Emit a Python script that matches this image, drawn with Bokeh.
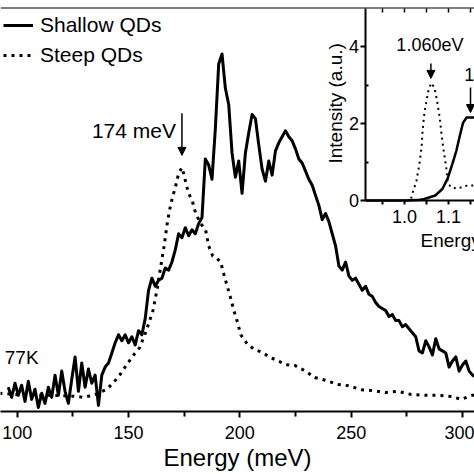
import numpy as np
from bokeh.plotting import figure
from bokeh.models import (Range1d, LinearAxis, FixedTicker, Label, Arrow,
                          NormalHead, Span, PrintfTickFormatter)
from bokeh.embed import file_html
from bokeh.resources import INLINE

FONT = "Liberation Sans"

# ---------------- main spectrum data (meV, arb. units) ----------------
shallow_energy = np.arange(96.0, 306.5, 1.5)  # sampling grid
shallow_intensity = [
    6, 3.5, 7, 4, 6.5, 2.5, 7.5, 3, 5.5, 1,
    4.5, 2, 6, 3.5, 9, 4, 10, 5, 2, 8,
    13.5, 5, 12, 6, 10.5, 7, 9, 1.5, 9, 11,
    12, 14.5, 17, 19, 17.5, 19, 17, 18.5, 16.5, 20,
    19, 23, 30, 33, 31, 32.5, 33, 35.5, 35, 37,
    40, 44, 43, 45.5, 43.5, 45, 44, 46.5, 48, 62.5,
    61, 57.5, 70, 86, 88.5, 80, 76, 64, 58, 62,
    54, 64, 69, 73.5, 72.5, 66, 60, 57, 62, 58.5,
    64.5, 66.5, 68, 69.5, 68, 67, 65, 62.5, 61.5, 59.5,
    57.5, 56, 53.5, 51, 47.5, 49, 47, 44, 41, 36,
    35, 37, 33.5, 32.5, 33, 31.5, 30, 31, 29, 28.5,
    27, 26, 25.5, 25, 23.5, 24, 22.5, 22.5, 21, 21.5,
    20.5, 19.5, 18.5, 15, 14.5, 17.5, 16, 14, 18, 15.5,
    15, 14.5, 11, 12.5, 13.5, 10, 11.5, 12.5, 10, 9,
    8.5,
]

steep_energy = [92, 105, 115, 125, 130, 135, 140, 143, 146, 149, 152, 155,
                158, 161, 163, 164.5, 166, 167.5, 168.5, 169.6, 171, 172.5,
                174, 175, 176, 177, 178.7, 180.2, 182.4, 184.6, 186, 187.8,
                189.5, 191.4, 192.8, 194.5, 195.9, 197.3, 199, 200.4, 203.5,
                206.7, 210.3, 213.5, 217, 220.7, 224.7, 229.2, 233.7, 238.7,
                244, 248.6, 254.5, 259, 265.3, 271, 277, 283.3, 289, 295,
                299.5, 304, 306]
steep_intensity = [4.5, 4, 4, 3.8, 3.5, 4.2, 5.4, 7, 9, 11.4, 13.8, 15.8,
                   20, 25, 30.7, 36, 41, 47, 50, 52.7, 55.4, 58.9,
                   60.4, 58.4, 56, 54, 52, 49, 46.5, 45, 41, 38.5,
                   38, 37, 34, 30.7, 28, 25, 22, 19, 16.6,
                   15.3, 14.6, 13.4, 12.6, 11.6, 11.4, 10.1, 8.4, 7.7,
                   6.7, 6.4, 5.4, 5.2, 4.7, 5, 4.2, 4, 4, 3.7,
                   3, 4, 4]

main_ticks = [100, 150, 200, 250, 300]
main_minor = [125, 175, 225, 275]
main_peak_mev = 174

# ---------------- inset data (eV, a.u.) ----------------
inset_steep_e = [1.015, 1.018, 1.027, 1.034, 1.039, 1.041, 1.045, 1.05, 1.055,
                 1.061, 1.068, 1.074, 1.08, 1.084, 1.089, 1.095, 1.098, 1.106,
                 1.12, 1.143, 1.16]
inset_steep_i = [0.05, 0.18, 0.5, 0.96, 1.4, 1.8, 2.26, 2.6, 2.9,
                 3.06, 2.94, 2.6, 2.16, 1.74, 1.3, 0.86, 0.47, 0.34,
                 0.31, 0.39, 0.39]
inset_shallow_e = [0.912, 1.0, 1.03, 1.045, 1.07, 1.086, 1.098, 1.109, 1.118,
                   1.126, 1.133, 1.141, 1.16]
inset_shallow_i = [0, 0, 0.01, 0.04, 0.13, 0.3, 0.57, 0.96, 1.3,
                   1.7, 2.02, 2.16, 2.16]
inset_xticks = [1.0, 1.1]
inset_xminor = [0.95, 1.05, 1.15]
inset_yticks = [0, 2, 4]
inset_yminor = [1, 3]
inset_peak_steep = 1.060
inset_peak_shallow = 1.150

INSET_X0 = 0.9125
INSET_X1 = 1.1591
INSET_YMAX = 5.0

p = figure(width=474, height=474,
           x_range=Range1d(92.5, 305.4), y_range=Range1d(0, 100),
           output_backend="svg", toolbar_location=None, y_axis_location=None,
           min_border_left=0, min_border_right=0, min_border_top=7,
           min_border_bottom=63)
p.outline_line_color = None
p.grid.visible = False
p.extra_x_ranges = {"ix": Range1d(0.0818, INSET_X1)}
p.extra_y_ranges = {"iy": Range1d(-5.495, 5.026)}

# main x axis
xa = p.xaxis[0]
xa.ticker = FixedTicker(ticks=main_ticks, minor_ticks=main_minor)
xa.axis_label = "Energy (meV)"
xa.axis_label_text_font = FONT
xa.axis_label_text_font_size = "24px"
xa.axis_label_text_font_style = "normal"
xa.axis_label_text_color = "black"
xa.axis_label_standoff = 2
xa.major_label_text_font = FONT
xa.major_label_text_font_size = "18px"
xa.major_label_text_color = "black"
xa.major_label_standoff = 8
xa.axis_line_width = 2
xa.major_tick_line_width = 2
xa.minor_tick_line_width = 2
xa.major_tick_out = 6
xa.major_tick_in = 0
xa.minor_tick_out = 5
xa.minor_tick_in = 0

# top frame line
p.add_layout(Span(location=100, dimension="width", line_color="black",
                  line_width=2))

# main curves
p.line(shallow_energy, shallow_intensity, line_color="black", line_width=3,
       line_join="round", legend_label="Shallow QDs")
p.line(steep_energy, steep_intensity, line_color="black", line_width=3,
       line_dash="3 5", legend_label="Steep QDs")

lg = p.legend[0]
lg.location = "top_left"
lg.margin = 3
lg.padding = 0
lg.spacing = 0
lg.border_line_color = None
lg.background_fill_alpha = 0
lg.glyph_width = 30
lg.glyph_height = 30
lg.label_height = 30
lg.label_standoff = 7
lg.label_text_font = FONT
lg.label_text_font_size = "21px"
lg.label_text_color = "black"

# main annotations
p.add_layout(Arrow(end=NormalHead(size=8, fill_color="black", line_color="black"),
                   x_start=main_peak_mev, y_start=73.8,
                   x_end=main_peak_mev, y_end=63.4, line_width=1.5))
p.add_layout(Label(x=main_peak_mev, y=69.6, x_offset=-6, text=f"{main_peak_mev} meV",
                   text_align="right", text_baseline="middle", text_color="black",
                   text_font=FONT, text_font_size="21px"))
p.add_layout(Label(x=109.6, y=13.4, text="77K", text_align="right",
                   text_baseline="middle", text_color="black",
                   text_font=FONT, text_font_size="19px"))

# ---------------- inset ----------------
p.line(inset_steep_e, inset_steep_i, x_range_name="ix", y_range_name="iy",
       line_color="black", line_width=2, line_dash="2 4")
p.line(inset_shallow_e, inset_shallow_i, x_range_name="ix", y_range_name="iy",
       line_color="black", line_width=2.5)

iy_ax = LinearAxis(x_range_name="ix", y_range_name="iy", fixed_location=INSET_X0,
                   bounds=(0, INSET_YMAX),
                   ticker=FixedTicker(ticks=inset_yticks, minor_ticks=inset_yminor))
iy_ax.major_label_text_font = FONT
iy_ax.major_label_text_font_size = "18px"
iy_ax.major_label_text_color = "black"
iy_ax.major_label_standoff = 2
iy_ax.axis_line_width = 2
iy_ax.major_tick_line_width = 2
iy_ax.minor_tick_line_width = 2
iy_ax.major_tick_out = 5
iy_ax.major_tick_in = 0
iy_ax.minor_tick_out = 0
iy_ax.minor_tick_in = 3
p.add_layout(iy_ax, "left")

ix_ax = LinearAxis(x_range_name="ix", y_range_name="iy", fixed_location=0,
                   bounds=(INSET_X0, INSET_X1),
                   ticker=FixedTicker(ticks=inset_xticks, minor_ticks=inset_xminor),
                   formatter=PrintfTickFormatter(format="%.1f"))
ix_ax.major_label_text_font = FONT
ix_ax.major_label_text_font_size = "18px"
ix_ax.major_label_text_color = "black"
ix_ax.major_label_standoff = 6
ix_ax.axis_line_width = 2
ix_ax.major_tick_line_width = 2
ix_ax.minor_tick_line_width = 2
ix_ax.major_tick_out = 4
ix_ax.major_tick_in = 0
ix_ax.minor_tick_out = 4
ix_ax.minor_tick_in = 0
p.add_layout(ix_ax, "below")

it_ax = LinearAxis(x_range_name="ix", y_range_name="iy", fixed_location=INSET_YMAX,
                   bounds=(INSET_X0, INSET_X1),
                   ticker=FixedTicker(ticks=inset_xticks, minor_ticks=inset_xminor))
it_ax.major_label_text_color = None
it_ax.axis_line_color = None
it_ax.major_tick_line_width = 1.5
it_ax.minor_tick_line_width = 1.5
it_ax.major_tick_out = 0
it_ax.major_tick_in = 4
it_ax.minor_tick_out = 0
it_ax.minor_tick_in = 4
p.add_layout(it_ax, "above")

p.add_layout(Label(x=0.8432, y=2.53, text="Intensity (a.u.)", angle=np.pi / 2,
                   x_range_name="ix", y_range_name="iy",
                   text_align="center", text_baseline="middle", text_color="black",
                   text_font=FONT, text_font_size="19px"))
p.add_layout(Label(x=1.0364, y=-1.04, text="Energy (eV)",
                   x_range_name="ix", y_range_name="iy",
                   text_align="left", text_baseline="middle", text_color="black",
                   text_font=FONT, text_font_size="19px"))

head = dict(size=8, fill_color="black", line_color="black")
p.add_layout(Arrow(end=NormalHead(**head), x_start=inset_peak_steep, y_start=3.57,
                   x_end=inset_peak_steep, y_end=3.18, line_width=1.5,
                   x_range_name="ix", y_range_name="iy"))
p.add_layout(Label(x=inset_peak_steep, y=4.04, x_offset=-1, text="1.060eV",
                   x_range_name="ix", y_range_name="iy",
                   text_align="center", text_baseline="middle", text_color="black",
                   text_font=FONT, text_font_size="18px"))
p.add_layout(Arrow(end=NormalHead(**head), x_start=inset_peak_shallow, y_start=2.94,
                   x_end=inset_peak_shallow, y_end=2.29, line_width=1.5,
                   x_range_name="ix", y_range_name="iy"))
p.add_layout(Label(x=1.136, y=3.26, text="1.150eV",
                   x_range_name="ix", y_range_name="iy",
                   text_align="left", text_baseline="middle", text_color="black",
                   text_font=FONT, text_font_size="18px"))

open("out.html", "w").write(file_html(p, INLINE))
